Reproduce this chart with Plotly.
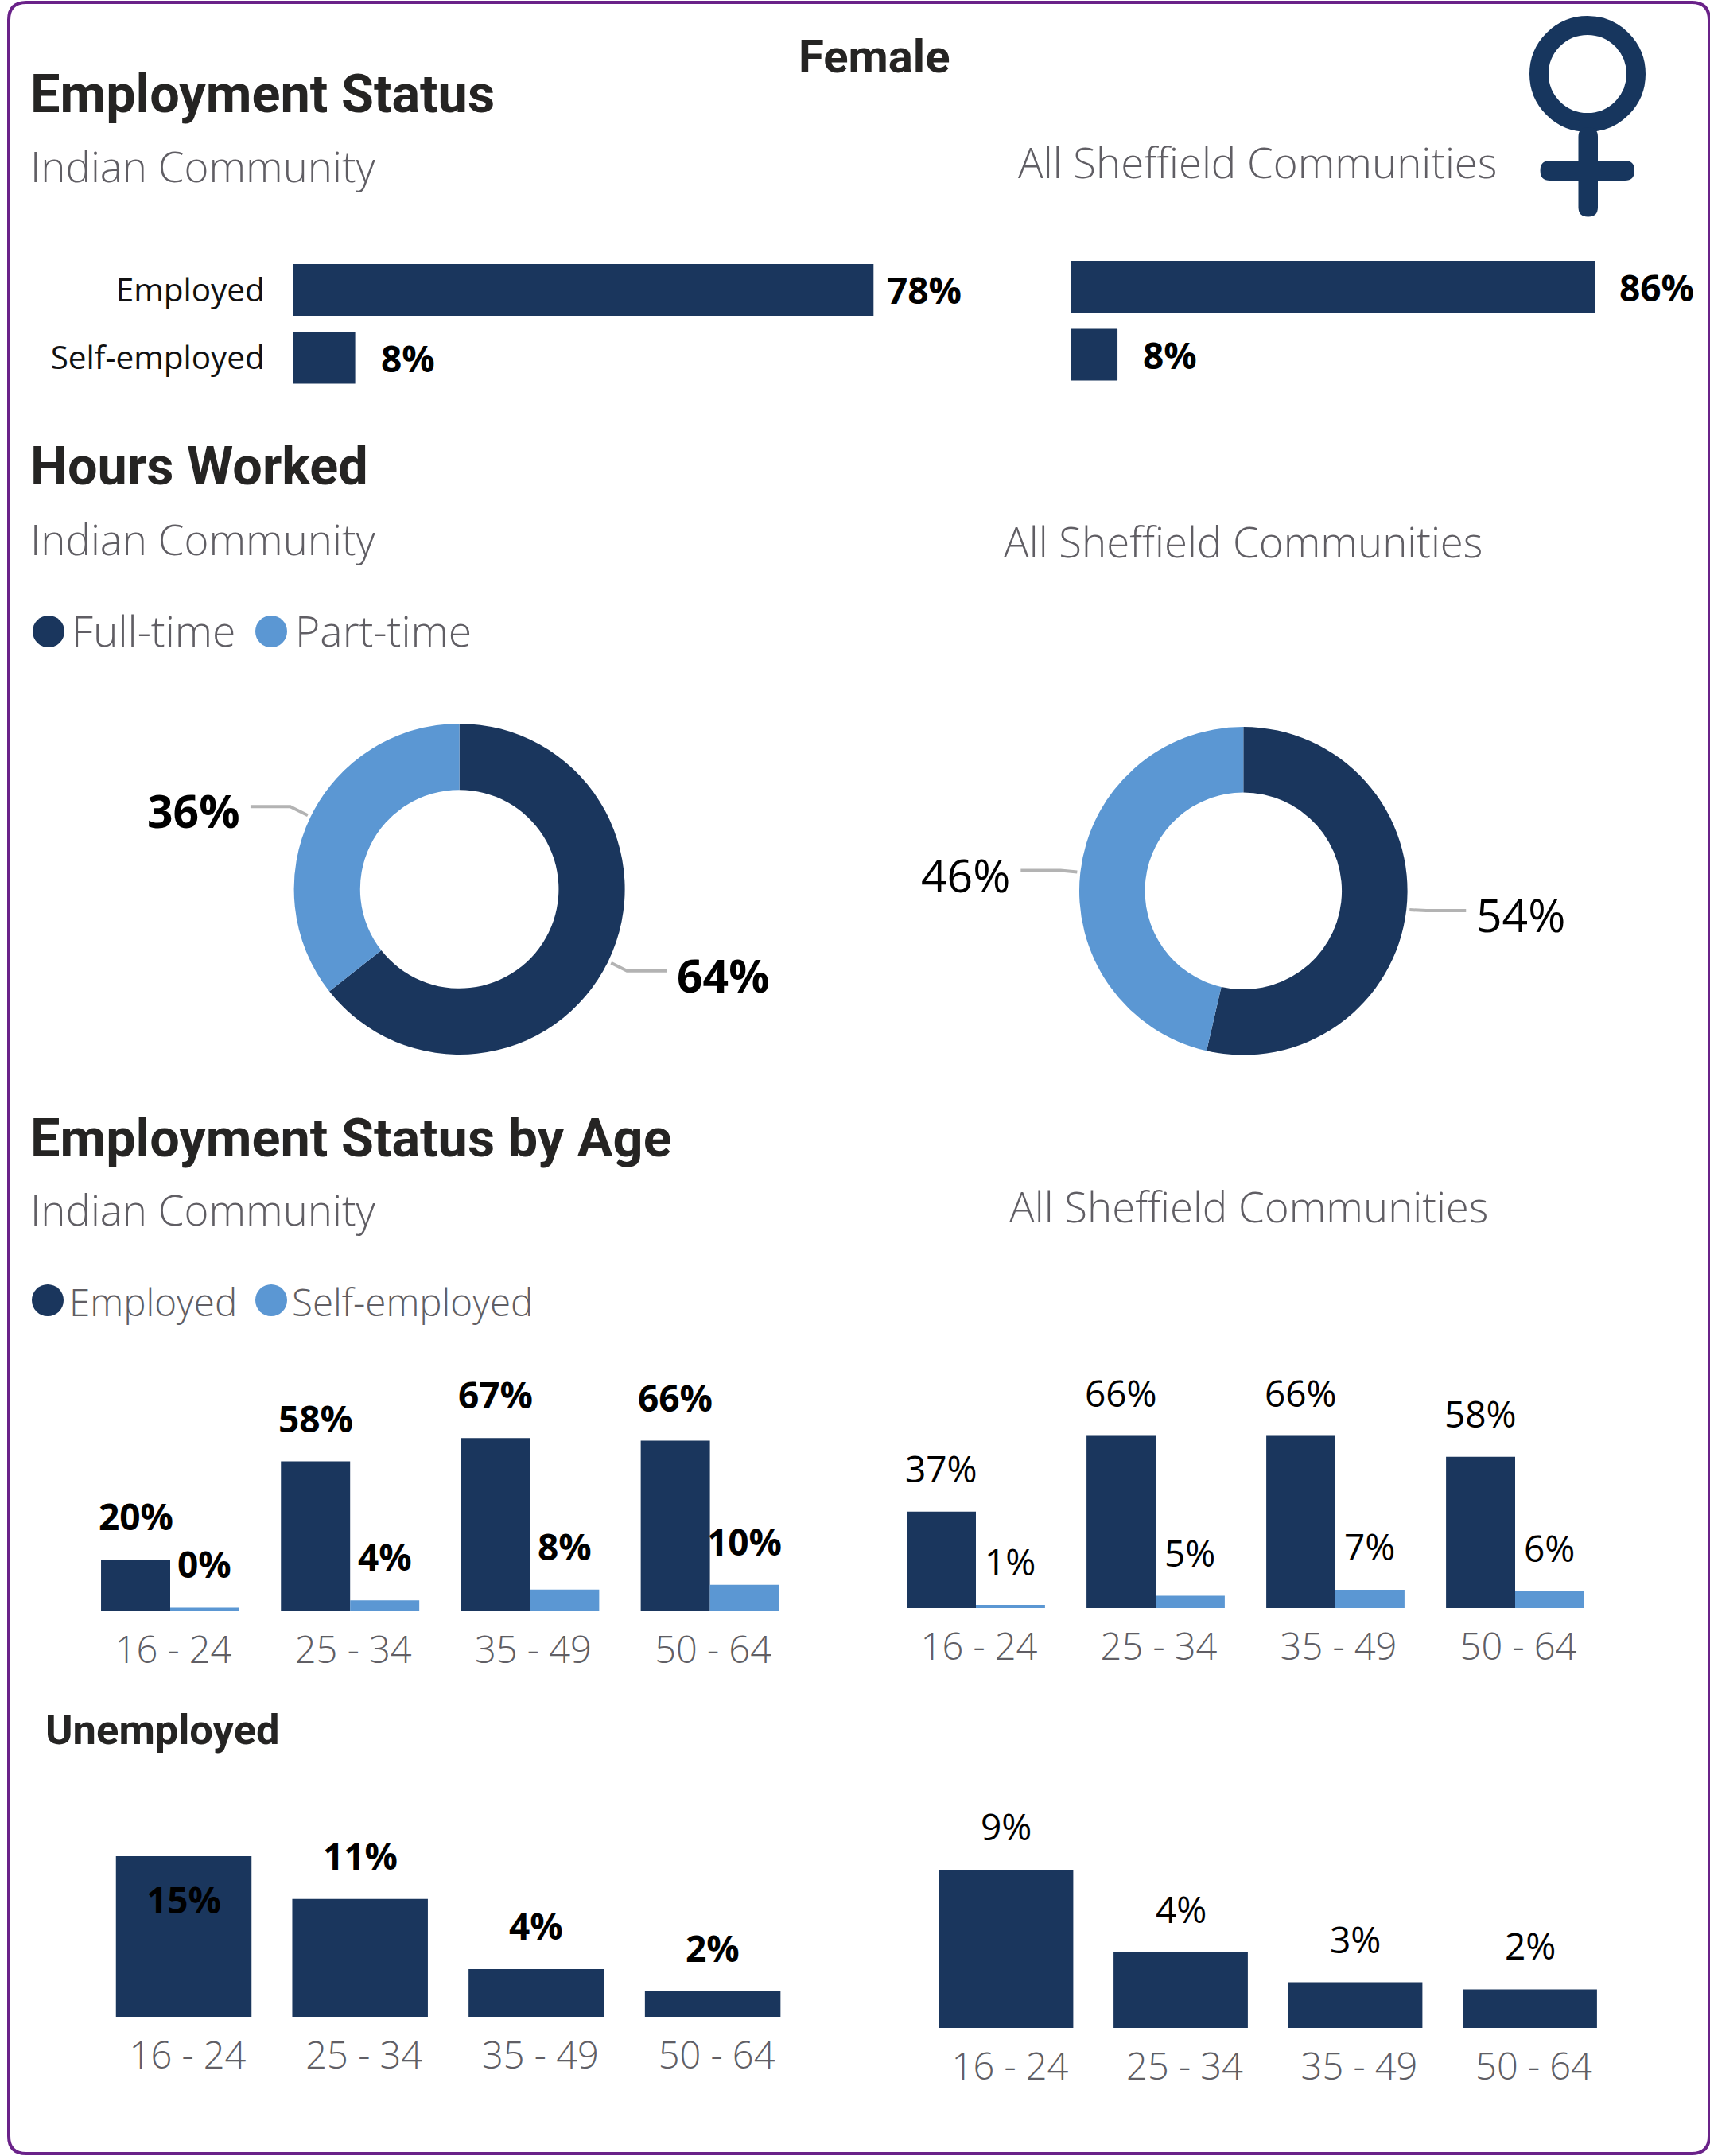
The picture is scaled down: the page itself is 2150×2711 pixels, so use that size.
import math
import plotly.graph_objects as go

W, H = 2150, 2711
DARK = "#1A365D"
LIGHT = "#5B97D3"
GREY = "#605E64"
HEAD = "#252423"
PURPLE = "#6A2289"
BODY = "Open Sans"
DIN = "Roboto"
LIGHTW = 300

# ---- data ----
status_cats = ["Employed", "Self-employed"]
status_indian = [78.0, 8.3]
status_all = [86.0, 7.7]

hours_cats = ["Full-time", "Part-time"]
hours_indian = [64.4, 35.6]
hours_all = [53.6, 46.4]

age_cats = ["16 - 24", "25 - 34", "35 - 49", "50 - 64"]
employed_indian = [20, 58, 67, 66]
self_indian = [1.4, 4.2, 8.4, 10.2]
self_indian_labels = ["0%", "4%", "8%", "10%"]
employed_all = [37, 66, 66, 58]
self_all = [1.2, 4.7, 7.0, 6.4]
self_all_labels = ["1%", "5%", "7%", "6%"]
unemployed_indian = [15, 11, 4.45, 2.4]
unemployed_all = [9.0, 4.3, 2.6, 2.2]

fig = go.Figure()
annotations, shapes = [], []


def px(x):
    return x / W


def py(y):
    return 1 - y / H


def text(x, y, s, size, color=GREY, bold=False, family=BODY, anchor="left", weight=None):
    annotations.append(dict(
        xref="paper", yref="paper", x=px(x), y=py(y), text=s, showarrow=False,
        xanchor=anchor, yanchor="middle", borderpad=0,
        font=dict(size=size, color=color, family=family,
                  weight=weight if weight else (700 if bold else 400))))


def axis_pair(idx, x0, x1, y0, y1, xkw, ykw):
    s = "" if idx == 1 else str(idx)
    fig.layout["xaxis" + s] = dict(domain=[px(x0), px(x1)], anchor="y" + s, showgrid=False,
                                   zeroline=False, showline=False, **xkw)
    fig.layout["yaxis" + s] = dict(domain=[py(y1), py(y0)], anchor="x" + s, showgrid=False,
                                   zeroline=False, showline=False, **ykw)
    return "x" + s, "y" + s


def hbar(idx, values, x0, scale, c0, step, shifts, show_cats):
    xr = 90
    xa, ya = axis_pair(
        idx, x0, x0 + xr * scale, c0 - step / 2, c0 + 1.5 * step,
        dict(range=[0, xr], showticklabels=False, ticks=""),
        dict(range=[1.5, -0.5], tickvals=[0, 1], ticktext=status_cats, showticklabels=show_cats,
             ticks="outside" if show_cats else "", ticklen=27, tickcolor="rgba(0,0,0,0)",
             tickfont=dict(size=40.5, color="#111111", family=BODY, weight=400)))
    fig.add_trace(go.Bar(orientation="h", x=values, y=[0, 1], marker=dict(color=DARK, line_width=0),
                         width=65 / step, xaxis=xa, yaxis=ya, showlegend=False))
    for i, v in enumerate(values):
        annotations.append(dict(xref=xa, yref=ya, x=v, y=i, text=f"{round(v)}%", showarrow=False,
                                xanchor="left", yanchor="middle", xshift=shifts[i],
                                font=dict(size=46, color="#000000", family=BODY, weight=700)))


def age_chart(idx, c0, step, baseline, scale, ymax, series, bold, lab_dx):
    xa, ya = axis_pair(
        idx, c0 - step / 2, c0 + 3.5 * step, baseline - ymax * scale, baseline,
        dict(range=[-0.5, 3.5], tickvals=list(range(4)), ticktext=age_cats, ticks="outside",
             ticklen=8, tickcolor="rgba(0,0,0,0)", ticklabelshift=lab_dx,
             tickfont=dict(size=47, color=GREY, family=BODY, weight=LIGHTW)),
        dict(range=[0, ymax], showticklabels=False, ticks=""))
    n = len(series)
    total = 0.769
    w = total / n
    for k, (vals, labels, color) in enumerate(series):
        off = (k - (n - 1) / 2) * w
        xs = [i + off for i in range(4)]
        fig.add_trace(go.Bar(x=xs, y=vals, width=w, marker=dict(color=color, line_width=0),
                             xaxis=xa, yaxis=ya, showlegend=False))
        for x, v, lab in zip(xs, vals, labels):
            yshift = 55
            if v * scale > (ymax * scale - 20):
                yshift = -54
            annotations.append(dict(xref=xa, yref=ya, x=x, y=v, text=lab, showarrow=False,
                                    xanchor="center", yanchor="middle", yshift=yshift,
                                    font=dict(size=46, color="#000000", family=BODY,
                                              weight=700 if bold else 400)))


def donut(values, cx, cy, R, bold, lab, elbow):
    fig.add_trace(go.Pie(
        values=values, labels=hours_cats, hole=0.6, sort=False, direction="clockwise", rotation=0,
        marker=dict(colors=[DARK, LIGHT], line_width=0), textinfo="none", showlegend=False,
        domain=dict(x=[px(cx - R), px(cx + R)], y=[py(cy + R), py(cy - R)])))
    total = sum(values)
    start = 0
    for i, v in enumerate(values):
        a = 2 * math.pi * (start + v / 2) / total
        start += v
        sx = cx + (R + 4) * math.sin(a)
        sy = cy - (R + 4) * math.cos(a)
        d = 1 if math.sin(a) > 0 else -1
        ex, ey = sx + d * elbow[i][0], sy + elbow[i][1]
        fx = ex + d * 50
        shapes.append(dict(type="path", xref="paper", yref="paper", layer="below",
                           path=f"M {px(sx)} {py(sy)} L {px(ex)} {py(ey)} L {px(fx)} {py(ey)}",
                           line=dict(color="#B3B3B3", width=4)))
        text(fx + d * lab, ey + 5, f"{round(v)}%", 57, color="#000000", bold=bold,
             anchor="left" if d > 0 else "right")


# ---- charts ----
hbar(1, status_indian, 369, 9.35, 364.5, 85.5, [15, 30], True)
hbar(2, status_all, 1346, 7.67, 360.5, 85.5, [28, 30], False)
donut(hours_indian, 577.6, 1118, 208, True, 12, [(20, 10), (22, -11)])
donut(hours_all, 1563.3, 1120.3, 206.3, False, 12, [(21, 1), (21, -2)])
age_chart(3, 214, 226.2, 2026, 3.25, 75,
          [(employed_indian, [f"{v}%" for v in employed_indian], DARK),
           (self_indian, self_indian_labels, LIGHT)], True, 4)
age_chart(4, 1227, 226, 2022, 3.28, 75,
          [(employed_all, [f"{v}%" for v in employed_all], DARK),
           (self_all, self_all_labels, LIGHT)], False, 4)
age_chart(5, 231, 221.7, 2536, 13.47, 15.5,
          [(unemployed_indian, [f"{round(v)}%" for v in unemployed_indian], DARK)], True, 5)
age_chart(6, 1265, 219.5, 2550, 22.1, 10.5,
          [(unemployed_all, [f"{round(v)}%" for v in unemployed_all], DARK)], False, 5)

# ---- headings ----
SUB = 52.8
HEADSZ = 66.6
text(1099, 71, "Female", 58, HEAD, True, DIN, "center")
text(37, 118, "Employment Status", HEADSZ, HEAD, True, DIN)
text(37, 209, "Indian Community", SUB, GREY, weight=LIGHTW)
text(1279, 204, "All Sheffield Communities", SUB, GREY, weight=LIGHTW)
text(37, 586, "Hours Worked", HEADSZ, HEAD, True, DIN)
text(37, 677, "Indian Community", SUB, GREY, weight=LIGHTW)
text(1261, 680, "All Sheffield Communities", SUB, GREY, weight=LIGHTW)
text(37, 1431, "Employment Status by Age", HEADSZ, HEAD, True, DIN)
text(37, 1520, "Indian Community", SUB, GREY, weight=LIGHTW)
text(1268, 1516, "All Sheffield Communities", SUB, GREY, weight=LIGHTW)
text(56, 2175, "Unemployed", 52.5, HEAD, True, DIN)

# ---- hand-made legends ----
for cx, cy, col in [(61, 794, DARK), (341, 794, LIGHT), (60, 1635, DARK), (341, 1635, LIGHT)]:
    shapes.append(dict(type="circle", xref="paper", yref="paper", x0=px(cx - 20), x1=px(cx + 20),
                       y0=py(cy + 20), y1=py(cy - 20), fillcolor=col, line_width=0))
text(89, 793, hours_cats[0], 53.5, GREY, weight=LIGHTW)
text(370, 793, hours_cats[1], 53.5, GREY, weight=LIGHTW)
text(86, 1636, status_cats[0], 47.5, GREY, weight=LIGHTW)
text(366, 1636, status_cats[1], 47.5, GREY, weight=LIGHTW)

# ---- female symbol ----
ICON = "#17365E"
shapes.append(dict(type="circle", xref="paper", yref="paper", x0=px(1935), x1=px(2057),
                   y0=py(154), y1=py(32), line=dict(color=ICON, width=24), fillcolor="rgba(0,0,0,0)"))


def rrect(x0, y0, x1, y1, r):
    p = (f"M {px(x0 + r)} {py(y0)} L {px(x1 - r)} {py(y0)} Q {px(x1)} {py(y0)} {px(x1)} {py(y0 + r)} "
         f"L {px(x1)} {py(y1 - r)} Q {px(x1)} {py(y1)} {px(x1 - r)} {py(y1)} "
         f"L {px(x0 + r)} {py(y1)} Q {px(x0)} {py(y1)} {px(x0)} {py(y1 - r)} "
         f"L {px(x0)} {py(y0 + r)} Q {px(x0)} {py(y0)} {px(x0 + r)} {py(y0)} Z")
    return p


shapes.append(dict(type="path", xref="paper", yref="paper", path=rrect(1984.5, 160, 2009, 272.5, 12),
                   fillcolor=ICON, line_width=0))
shapes.append(dict(type="path", xref="paper", yref="paper", path=rrect(1936.6, 202, 2055, 227, 12),
                   fillcolor=ICON, line_width=0))

# ---- card border ----
shapes.append(dict(type="path", xref="paper", yref="paper", path=rrect(11, 3, 2149, 2708, 22),
                   fillcolor="rgba(0,0,0,0)", line=dict(color=PURPLE, width=4), layer="below"))

fig.update_layout(
    width=W, height=H, margin=dict(l=0, r=0, t=0, b=0, autoexpand=False),
    paper_bgcolor="white", plot_bgcolor="white", barmode="overlay",
    annotations=annotations, shapes=shapes, hovermode=False,
)
fig.write_html("out.html", config=dict(displayModeBar=False, responsive=False),
               post_script="document.body.style.margin='0';document.documentElement.style.overflow='hidden';")
